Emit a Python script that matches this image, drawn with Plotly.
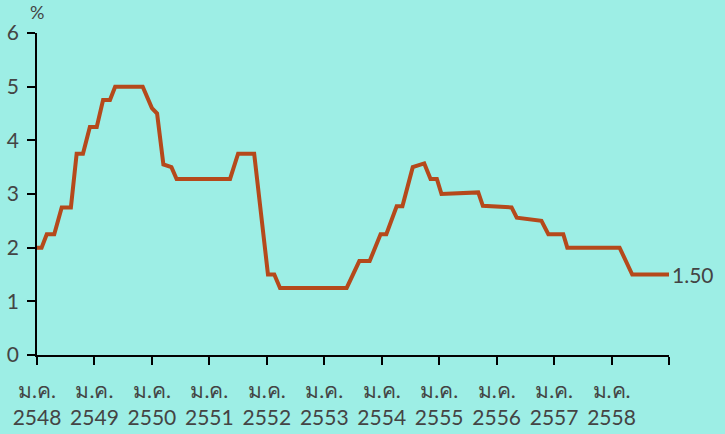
import plotly.graph_objects as go

# Policy rate (%), x in decimal years (Buddhist era 2548 = 2005)
years = [2005.00, 2005.08, 2005.17, 2005.30, 2005.43, 2005.59, 2005.69, 2005.80,
         2005.92, 2006.04, 2006.15, 2006.27, 2006.36, 2006.84, 2007.00, 2007.09,
         2007.20, 2007.34, 2007.43, 2008.36, 2008.50, 2008.78, 2009.02, 2009.13,
         2009.23, 2010.39, 2010.61, 2010.79, 2010.98, 2011.08, 2011.26, 2011.36,
         2011.54, 2011.74, 2011.85, 2011.96, 2012.04, 2012.68, 2012.76, 2013.26,
         2013.35, 2013.78, 2013.90, 2014.16, 2014.23, 2015.14, 2015.36, 2016.00]
rate = [2.00, 2.00, 2.25, 2.25, 2.75, 2.75, 3.75, 3.75,
        4.25, 4.25, 4.75, 4.75, 5.00, 5.00, 4.60, 4.50,
        3.55, 3.50, 3.28, 3.28, 3.75, 3.75, 1.50, 1.50,
        1.25, 1.25, 1.75, 1.75, 2.25, 2.25, 2.77, 2.77,
        3.50, 3.57, 3.28, 3.28, 3.00, 3.03, 2.78, 2.75,
        2.56, 2.50, 2.25, 2.25, 2.00, 2.00, 1.50, 1.50]

tick_years = list(range(2005, 2017))
tick_text = ["ม.ค.<br>" + str(y + 543) for y in range(2005, 2016)] + [""]
y_ticks = [0, 1, 2, 3, 4, 5, 6]
last_label = "1.50"

BG = "#9DEEE5"
LINE = "#B5491B"
TXT = "#444444"
FONT = "Lato, 'Noto Sans', sans-serif"

fig = go.Figure()
fig.add_trace(go.Scatter(x=years, y=rate, mode="lines",
                         line=dict(color=LINE, width=4), hoverinfo="skip"))

fig.add_annotation(x=years[-1], y=rate[-1], text=last_label, showarrow=False,
                   xanchor="left", yanchor="middle", xshift=1,
                   font=dict(size=21, color=TXT, family=FONT))
fig.add_annotation(x=0, y=1, xref="paper", yref="paper", text="%", showarrow=False,
                   xanchor="center", yanchor="bottom", yshift=8,
                   font=dict(size=18, color=TXT, family=FONT))

fig.update_layout(
    width=725, height=434,
    margin=dict(l=37, r=56, t=33, b=79),
    paper_bgcolor=BG, plot_bgcolor=BG,
    showlegend=False,
    font=dict(family=FONT, size=20, color=TXT),
)
fig.update_xaxes(range=[2005, 2016], tickvals=tick_years, ticktext=tick_text,
                 automargin=False,
                 showgrid=False, zeroline=False, showline=True, linecolor="black",
                 linewidth=1.5, ticks="outside", ticklen=8, tickcolor="black",
                 tickwidth=1.5, tickangle=0, ticklabelstandoff=8,
                 tickfont=dict(size=21, color=TXT, family=FONT))
fig.update_yaxes(range=[0, 6], tickvals=y_ticks, showgrid=False, zeroline=False,
                 automargin=False,
                 showline=True, linecolor="black", linewidth=1.5, ticks="outside",
                 ticklen=8, tickcolor="black", tickwidth=1.5, ticklabelstandoff=4,
                 tickfont=dict(size=21, color=TXT, family=FONT))

fig.write_html("out.html")
